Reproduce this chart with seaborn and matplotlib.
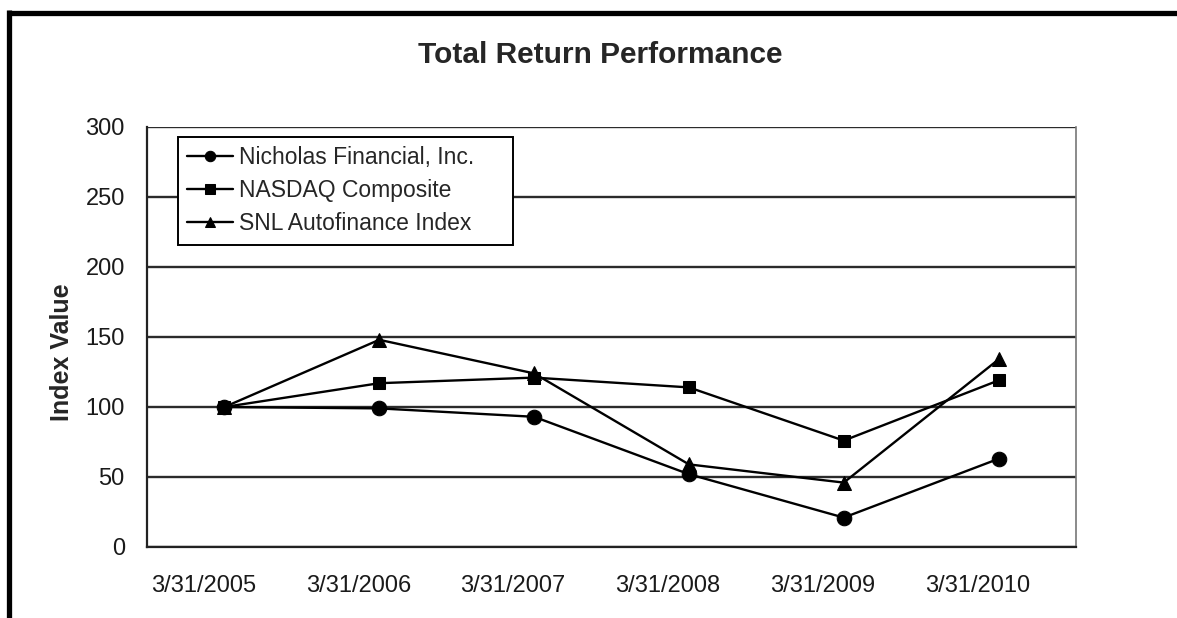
"""Total Return Performance - recreated line chart."""

import matplotlib

matplotlib.use("Agg")

import matplotlib.pyplot as plt
import matplotlib.transforms as mtransforms
import pandas as pd
import seaborn as sns
from matplotlib.lines import Line2D

# data
dates = ["3/31/2005", "3/31/2006", "3/31/2007", "3/31/2008", "3/31/2009", "3/31/2010"]
nicholas = [100, 99, 93, 52, 21, 63]
nasdaq = [100, 117, 121, 114, 76, 119]
snl = [100, 148, 124, 59, 46, 134]

series_names = ["Nicholas Financial, Inc.", "NASDAQ Composite", "SNL Autofinance Index"]
series_values = [nicholas, nasdaq, snl]
series_markers = ["o", "s", "^"]
series_msize = [10.5, 9, 9.5]

yticks = [0, 50, 100, 150, 200, 250, 300]

sns.set_style("white")
plt.rcParams["font.family"] = ["Liberation Sans", "DejaVu Sans"]

fig = plt.figure(figsize=(11.77, 6.18), dpi=100)
ax = fig.add_axes([0.1249, 0.1149, 0.9142 - 0.1249, 0.7945 - 0.1149])

pos = list(range(len(dates)))
for name, vals, mk, ms in zip(series_names, series_values, series_markers, series_msize):
    df = pd.DataFrame({"x": pos, "y": vals})
    sns.lineplot(data=df, x="x", y="y", ax=ax, color="black", linewidth=1.7,
                 marker=mk, markersize=ms, markeredgecolor="black", label=name)

ax.set_xlim(-0.5, len(dates) - 0.5)
ax.set_ylim(0, 300)
ax.set_yticks(yticks)
ax.set_xlabel("")
ax.set_ylabel("")

# category labels centred, tick marks on category boundaries
ax.set_xticks(pos)
ax.set_xticklabels(dates, fontsize=17, color="#1a1a1a")
ax.set_xticks([p - 0.5 for p in pos] + [len(dates) - 0.5], minor=True)
ax.tick_params(axis="x", which="major", length=0, pad=20)
ax.tick_params(axis="x", which="minor", length=6, width=1.4, direction="out", color="#222222")
shift = mtransforms.ScaledTranslation(-21 / 100, 0, fig.dpi_scale_trans)
for lbl in ax.get_xticklabels():
    lbl.set_transform(lbl.get_transform() + shift)

ax.tick_params(axis="y", which="major", length=5, width=1.4, direction="out",
               color="#222222", pad=11, labelsize=17, labelcolor="#1a1a1a")

ax.yaxis.grid(True, color="#2b2b2b", linewidth=1.7)
ax.xaxis.grid(False)
ax.set_axisbelow(True)
for side in ["left", "bottom"]:
    ax.spines[side].set_color("#222222")
    ax.spines[side].set_linewidth(1.6)
ax.spines["top"].set_visible(False)
ax.spines["right"].set_color("#777777")
ax.spines["right"].set_linewidth(1.2)

leg = ax.legend(loc="upper left", bbox_to_anchor=(0.0334, 0.5, 0.3606, 0.477),
                mode="expand", fontsize=16.5, frameon=True, fancybox=False,
                edgecolor="black", framealpha=1, handlelength=2.0, handletextpad=0.25,
                labelspacing=0.45, borderpad=0.4, borderaxespad=0)
leg.get_frame().set_linewidth(1.4)
for h in leg.legend_handles:
    h.set_markersize(7.5)

fig.text(600 / 1177, 1 - 55 / 618, "Total Return Performance", ha="center", va="center",
         fontsize=21.5, fontweight="bold")
fig.text(62 / 1177, 1 - 352 / 618, "Index Value", ha="center", va="center",
         rotation=90, fontsize=18, fontweight="bold")

# scan-frame border (top and left)
fig.add_artist(Line2D([8 / 1177, 1], [1 - 12.5 / 618] * 2, color="black", linewidth=3.8,
                      transform=fig.transFigure, solid_capstyle="butt"))
fig.add_artist(Line2D([8.5 / 1177] * 2, [0, 1 - 10 / 618], color="black", linewidth=3.8,
                      transform=fig.transFigure, solid_capstyle="butt"))

fig.savefig("out.png", dpi=100)
